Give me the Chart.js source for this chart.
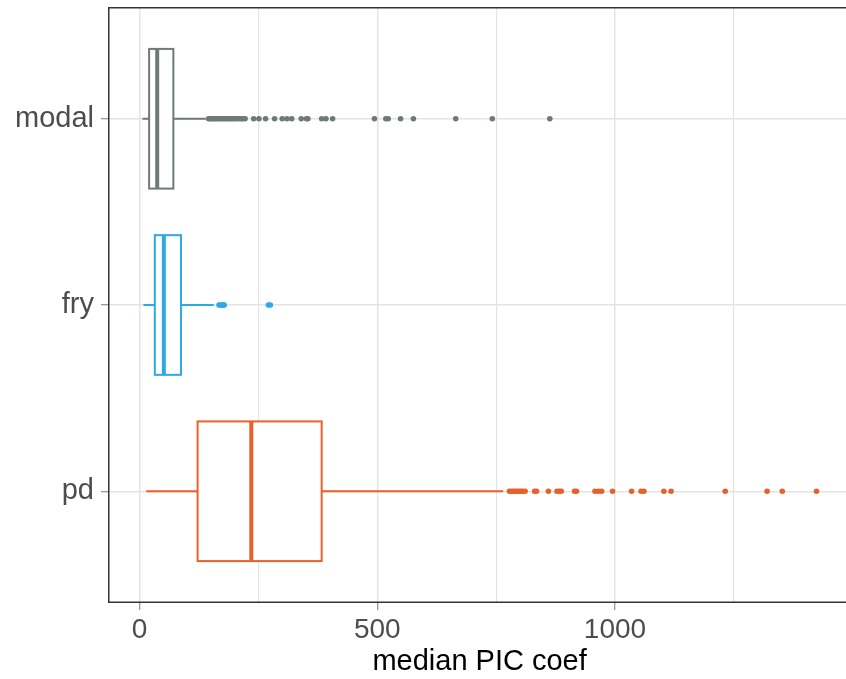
<!DOCTYPE html>
<html>
<head>
<meta charset="utf-8">
<script src="https://cdn.jsdelivr.net/npm/chart.js@4/dist/chart.umd.min.js"></script>
<style>
  html, body { margin: 0; padding: 0; background: #ffffff; overflow: hidden; }
  #wrap { width: 846px; height: 679px; overflow: hidden; }
</style>
</head>
<body>
<div id="wrap"><canvas id="chart" width="854" height="679"></canvas></div>
<script>
// Groups, top to bottom
const categories = ['modal', 'fry', 'pd'];

// Five-number summaries per group (whisker ends, quartiles, median)
const whiskerLow  = [6, 8, 14];
const q1          = [20, 32, 122];
const median      = [37, 51, 235];
const q3          = [71, 87, 383];
const whiskerHigh = [139, 156, 765];

// Outlying values per group
const outliersModal = [145, 148, 151, 155, 158, 162, 165, 169, 173, 177, 181, 185, 189, 193,
  197, 201, 205, 210, 214, 218, 222, 240, 251, 265, 284, 300, 310, 320, 340, 351, 354,
  383, 392, 406, 494, 518, 523, 549, 576, 665, 742, 863];
const outliersFry = [167, 170, 173, 176, 178, 271, 275];
const outliersPd = [778, 782, 786, 790, 794, 798, 802, 806, 811, 831, 835, 860, 878, 883,
  887, 915, 919, 958, 965, 972, 995, 1035, 1055, 1061, 1103, 1118, 1232, 1320, 1352, 1424];

// Axis ticks
const xTicks = [0, 250, 500, 750, 1000, 1250];
const xLabelled = [0, 500, 1000];

const colors = ['#6E7A78', '#2DA9E6', '#E8602C'];
const FONT = "'Liberation Sans', Arial, Helvetica, sans-serif";
const BOX_HALF = 0.375;   // half box height, in category units

const outlierSets = [outliersModal, outliersFry, outliersPd];
const datasets = outlierSets.map((vals, i) => ({
  label: categories[i],
  data: vals.map(v => ({ x: v, y: i + 1 })),
  backgroundColor: colors[i],
  borderWidth: 0,
  pointRadius: 2.8,
  pointHoverRadius: 2.8
}));

// Whiskers, boxes and medians, drawn through the chart's scales
const boxPlugin = {
  id: 'boxes',
  beforeDatasetsDraw(chart) {
    const { ctx, scales: { x, y } } = chart;
    const px = v => x.getPixelForValue(v);
    ctx.save();
    categories.forEach((c, i) => {
      const yc = y.getPixelForValue(i + 1);
      const yTop = y.getPixelForValue(i + 1 - BOX_HALF);
      const yBot = y.getPixelForValue(i + 1 + BOX_HALF);
      ctx.strokeStyle = colors[i];
      ctx.lineWidth = 2;
      ctx.beginPath();
      ctx.moveTo(px(whiskerLow[i]), yc); ctx.lineTo(px(q1[i]), yc);
      ctx.moveTo(px(q3[i]), yc); ctx.lineTo(px(whiskerHigh[i]), yc);
      ctx.stroke();
      const x0 = px(q1[i]), x1 = px(q3[i]);
      ctx.fillStyle = '#ffffff';
      ctx.fillRect(x0, Math.min(yTop, yBot), x1 - x0, Math.abs(yBot - yTop));
      ctx.strokeRect(x0, Math.min(yTop, yBot), x1 - x0, Math.abs(yBot - yTop));
      ctx.lineWidth = 4;
      ctx.beginPath();
      ctx.moveTo(px(median[i]), yTop); ctx.lineTo(px(median[i]), yBot);
      ctx.stroke();
    });
    ctx.restore();
  },
  afterDraw(chart) {
    const { ctx, chartArea: a } = chart;
    ctx.save();
    ctx.strokeStyle = '#333333';
    ctx.lineWidth = 1.5;
    ctx.strokeRect(a.left + 0.75, a.top + 0.75, a.right - a.left + 20, a.bottom - a.top - 1.5);
    ctx.restore();
  }
};

new Chart(document.getElementById('chart'), {
  type: 'scatter',
  data: { datasets },
  plugins: [boxPlugin],
  options: {
    responsive: false,
    animation: false,
    events: [],
    layout: { padding: { top: 7, right: 0, bottom: 0, left: 0 } },
    plugins: { legend: { display: false }, tooltip: { enabled: false } },
    scales: {
      x: {
        type: 'linear',
        min: -66.5,
        max: 1497,
        afterBuildTicks: s => { s.ticks = xTicks.map(v => ({ value: v })); },
        afterFit: s => { s.height = 76; s.paddingLeft = 0; s.paddingRight = 0; },
        border: { display: false },
        grid: {
          color: '#e4e4e4',
          lineWidth: ctx => (ctx.tick && xLabelled.includes(ctx.tick.value)) ? 1.5 : 1.2,
          tickColor: ctx => (ctx.tick && xLabelled.includes(ctx.tick.value)) ? '#7a7a7a' : 'rgba(0,0,0,0)',
          tickLength: 7,
          tickWidth: 1
        },
        ticks: {
          autoSkip: false,
          maxRotation: 0,
          padding: 3,
          color: '#4d4d4d',
          font: { family: FONT, size: 28 },
          callback: v => xLabelled.includes(v) ? String(v) : ''
        },
        title: {
          display: true,
          text: 'median PIC coef',
          color: '#000000',
          font: { family: FONT, size: 29 },
          padding: { top: -1, bottom: 0 }
        }
      },
      y: {
        type: 'linear',
        reverse: true,
        min: 0.4,
        max: 3.6,
        afterBuildTicks: s => { s.ticks = categories.map((c, i) => ({ value: i + 1 })); },
        afterFit: s => { s.width = 108; s.paddingTop = 0; s.paddingBottom = 0; },
        border: { display: false },
        grid: {
          color: '#e4e4e4',
          lineWidth: 1.5,
          tickColor: '#7a7a7a',
          tickLength: 7,
          tickWidth: 1
        },
        ticks: {
          autoSkip: false,
          padding: 7,
          color: '#4d4d4d',
          font: { family: FONT, size: 29 },
          callback: v => categories[v - 1] || ''
        }
      }
    }
  }
});
</script>
</body>
</html>
